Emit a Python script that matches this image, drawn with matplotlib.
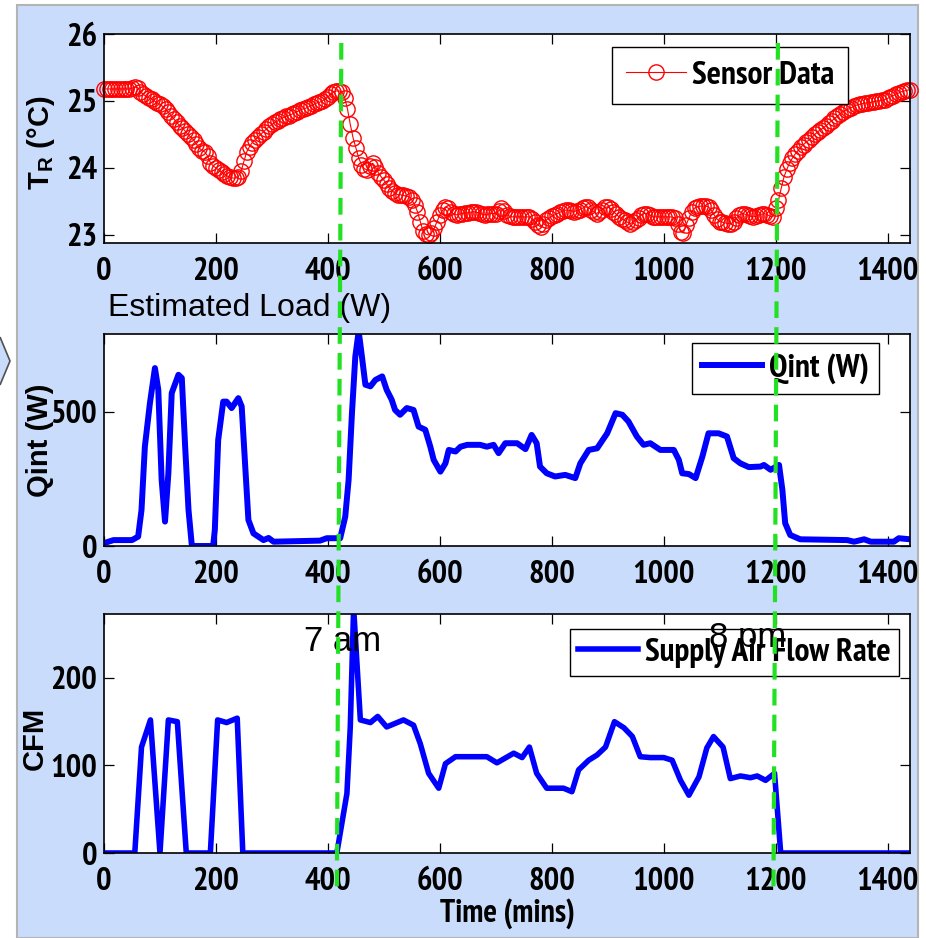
import matplotlib
matplotlib.use('Agg')
import matplotlib.pyplot as plt
import matplotlib.transforms as mtransforms
from matplotlib import font_manager as fm
from matplotlib.patches import Rectangle, Polygon
from matplotlib.lines import Line2D

# room temperature sensor, one reading every 5 minutes
temp_min = list(range(0, 1441, 5))
temp_c = [
    25.18, 25.18, 25.18, 25.18, 25.18, 25.18, 25.18, 25.18, 25.18, 25.18, 25.19, 25.21,
    25.20, 25.14, 25.10, 25.07, 25.05, 25.03, 25.00, 24.97, 24.95, 24.92, 24.88, 24.83,
    24.78, 24.73, 24.68, 24.63, 24.60, 24.55, 24.50, 24.46, 24.42, 24.36, 24.30, 24.26,
    24.24, 24.18, 24.08, 24.03, 24.00, 23.97, 23.94, 23.91, 23.88, 23.86, 23.85, 23.85,
    23.87, 23.95, 24.10, 24.24, 24.32, 24.38, 24.42, 24.46, 24.50, 24.54, 24.58, 24.62,
    24.65, 24.68, 24.70, 24.73, 24.75, 24.77, 24.78, 24.80, 24.82, 24.84, 24.86, 24.88,
    24.89, 24.91, 24.93, 24.95, 24.97, 24.98, 25.00, 25.03, 25.06, 25.10, 25.13, 25.15,
    25.15, 25.14, 25.05, 24.88, 24.65, 24.45, 24.30, 24.15, 24.05, 23.99, 23.97, 24.03,
    24.07, 24.02, 23.93, 23.87, 23.82, 23.76, 23.70, 23.66, 23.62, 23.60, 23.60, 23.59,
    23.58, 23.57, 23.52, 23.45, 23.35, 23.20, 23.06, 23.01, 23.00, 23.03, 23.10, 23.20,
    23.30, 23.37, 23.42, 23.40, 23.35, 23.31, 23.30, 23.31, 23.32, 23.33, 23.33, 23.34,
    23.35, 23.34, 23.33, 23.31, 23.30, 23.31, 23.32, 23.32, 23.32, 23.36, 23.40, 23.36,
    23.30, 23.28, 23.27, 23.27, 23.27, 23.27, 23.27, 23.27, 23.27, 23.24, 23.20, 23.15,
    23.12, 23.17, 23.22, 23.25, 23.28, 23.30, 23.32, 23.34, 23.36, 23.37, 23.37, 23.36,
    23.35, 23.36, 23.38, 23.40, 23.42, 23.41, 23.38, 23.35, 23.32, 23.35, 23.38, 23.41,
    23.42, 23.39, 23.35, 23.31, 23.27, 23.24, 23.22, 23.19, 23.17, 23.19, 23.22, 23.26,
    23.30, 23.32, 23.32, 23.30, 23.27, 23.27, 23.27, 23.27, 23.27, 23.27, 23.27, 23.27,
    23.25, 23.17, 23.05, 23.03, 23.15, 23.25, 23.35, 23.40, 23.42, 23.43, 23.43, 23.43,
    23.42, 23.37, 23.30, 23.24, 23.20, 23.19, 23.18, 23.17, 23.17, 23.20, 23.25, 23.30,
    23.32, 23.31, 23.30, 23.28, 23.27, 23.28, 23.30, 23.31, 23.32, 23.30, 23.28, 23.27,
    23.40, 23.52, 23.70, 23.87, 23.98, 24.08, 24.15, 24.21, 24.26, 24.31, 24.35, 24.39,
    24.42, 24.46, 24.50, 24.54, 24.57, 24.60, 24.63, 24.67, 24.70, 24.74, 24.77, 24.81,
    24.84, 24.86, 24.88, 24.90, 24.92, 24.94, 24.95, 24.96, 24.97, 24.97, 24.98, 24.99,
    25.00, 25.00, 25.01, 25.02, 25.04, 25.06, 25.08, 25.10, 25.12, 25.14, 25.15, 25.16,
    25.17,
]

# estimated internal load
q_min = [0, 2, 17, 50, 61, 67, 73, 82, 91, 97, 103, 109, 115, 121, 133, 139,
         145, 151, 157, 195, 198, 204, 213, 219, 228, 240, 246, 252, 258, 267,
         285, 294, 303, 386, 398, 422, 431, 437, 443, 449, 455, 460, 467, 476,
         485, 497, 505, 514, 520, 529, 541, 553, 562, 574, 583, 589, 601, 610,
         616, 628, 637, 649, 672, 684, 696, 705, 717, 738, 753, 764, 773, 779,
         791, 806, 824, 842, 851, 866, 881, 899, 914, 926, 937, 952, 964, 976,
         994, 1018, 1027, 1033, 1045, 1057, 1069, 1080, 1098, 1113, 1125, 1137,
         1152, 1173, 1179, 1191, 1206, 1212, 1217, 1226, 1244, 1328, 1340, 1358,
         1370, 1411, 1420, 1440]
q_w = [10, 12, 22, 22, 35, 134, 370, 532, 663, 582, 246, 91, 271, 570, 638, 626,
       370, 134, 0, 0, 60, 395, 538, 538, 514, 551, 520, 308, 97, 47,
       22, 30, 16, 20, 29, 29, 109, 246, 495, 706, 800, 719, 601, 595,
       619, 632, 582, 545, 507, 489, 514, 507, 445, 433, 370, 321, 277, 308,
       358, 352, 370, 377, 377, 370, 377, 346, 383, 383, 361, 414, 383, 296,
       271, 259, 265, 253, 308, 358, 364, 420, 495, 489, 464, 408, 377, 383,
       358, 358, 321, 271, 268, 253, 333, 420, 420, 408, 327, 308,
       294, 296, 302, 284, 302, 209, 85, 41, 25, 22, 16, 25,
       16, 16, 29, 25]

# supply air flow
cfm_min = [0, 55, 67, 83, 100, 115, 131, 147, 190, 203, 219, 238, 248, 416, 434,
           440, 446, 458, 476, 489, 505, 535, 553, 565, 580, 598, 610, 628, 684,
           702, 732, 747, 760, 773, 791, 821, 836, 848, 866, 881, 896, 912, 929,
           944, 958, 976, 1000, 1015, 1030, 1045, 1063, 1077, 1089, 1106, 1119,
           1137, 1155, 1167, 1182, 1198, 1209, 1440]
cfm = [0, 0, 121, 152, 0, 152, 150, 0, 0, 152, 149, 154, 0, 0, 68,
       144, 280, 152, 149, 156, 144, 152, 146, 125, 91, 74, 102, 110, 110,
       103, 114, 109, 121, 91, 74, 74, 70, 95, 106, 112, 121, 150, 143,
       133, 110, 109, 109, 106, 83, 66, 87, 120, 133, 121, 85,
       88, 86, 88, 83, 91, 0, 0]

event_min = [420, 1200]
event_txt = ['7 am', '8 pm']
event_txt_x = [427, 1150]
event_txt_y = [231, 235]


def installed(name):
    try:
        fm.findfont(fm.FontProperties(family=name), fallback_to_default=False)
        return True
    except ValueError:
        return False


# MATLAB figure was squeezed sideways, so its labels look like a narrow face
narrow = next((f for f in ['Liberation Sans Narrow', 'Arial Narrow', 'PT Sans Narrow',
                           'Roboto Condensed', 'Archivo Narrow', 'Pragati Narrow']
               if installed(f)), 'Liberation Sans')
plain = 'Arimo' if installed('Arimo') else 'Liberation Sans'

plt.rcParams['font.family'] = [narrow, 'DejaVu Sans']
plt.rcParams['mathtext.fontset'] = 'custom'
plt.rcParams['mathtext.rm'] = plain + ':bold'
plt.rcParams['mathtext.it'] = plain + ':bold'
plt.rcParams['mathtext.bf'] = plain + ':bold'

W, H = 926, 938
bg = '#cadcfc'
fig = plt.figure(figsize=(W / 100, H / 100), dpi=100)

# light blue slide panel + the little arrow on the left
fig.add_artist(Rectangle((17 / W, 0), (918 - 17) / W, (H - 5) / H, transform=fig.transFigure,
                         facecolor=bg, edgecolor='#b4b4b4', lw=1.5, zorder=-5))
fig.add_artist(Polygon([(0, 1 - 337 / H), (10 / W, 1 - 361 / H), (0, 1 - 385 / H)],
                       closed=False, transform=fig.transFigure, facecolor=bg,
                       edgecolor='#505050', lw=1.2, zorder=-4))

ax1 = fig.add_axes([104 / W, 1 - 243 / H, 806 / W, 209 / H])
ax2 = fig.add_axes([104 / W, 1 - 546 / H, 806 / W, 212 / H])
ax3 = fig.add_axes([104 / W, 1 - 853 / H, 806 / W, 239 / H])

ylab_font = dict(family=plain, weight='bold', size=21)
leg_font = dict(weight='bold', size=24)


def style(ax, ylim, yticks):
    ax.set_xlim(0, 1440)
    ax.set_ylim(*ylim)
    ax.set_xticks(range(0, 1401, 200))
    ax.set_yticks(yticks)
    ax.tick_params(direction='in', top=True, right=True, length=7, width=0.9, labelsize=23.5)
    ax.tick_params(axis='x', pad=10)
    ax.tick_params(axis='y', pad=5)
    for lab in ax.get_xticklabels() + ax.get_yticklabels():
        lab.set_fontweight('bold')
    for s in ax.spines.values():
        s.set_linewidth(1.2)


def legend(ax, anchor, pad):
    leg = ax.legend(loc='upper right', bbox_to_anchor=anchor, prop=leg_font, numpoints=1,
                    fancybox=False, framealpha=1, edgecolor='black', borderpad=pad,
                    handlelength=1.8, handletextpad=0.2, borderaxespad=0)
    leg.get_frame().set_linewidth(1)


ax1.plot(temp_min, temp_c, color='red', lw=0.8, marker='o', ms=11, mfc='none',
         mew=1.0, clip_on=False, label='Sensor Data')
style(ax1, (22.88, 26), [23, 24, 25, 26])
ax1.set_ylabel('T$_\\mathrm{R}$ (°C)', **ylab_font)
ax1.yaxis.set_label_coords(-0.058, 0.48)
legend(ax1, (0.923, 0.938), 0.4)

ax2.plot(q_min, q_w, color='#0000ff', lw=4.3, solid_joinstyle='round', label='Qint (W)')
style(ax2, (0, 790), [0, 500])
ax2.set_ylabel('Qint (W)', **ylab_font)
ax2.yaxis.set_label_coords(-0.062, 0.5)
legend(ax2, (0.9615, 0.9575), 0.3)

ax3.plot(cfm_min, cfm, color='#0000ff', lw=4.0, label='Supply Air Flow Rate')
style(ax3, (0, 273), [0, 100, 200])
ax3.set_ylabel('CFM', **ylab_font)
ax3.yaxis.set_label_coords(-0.069, 0.48)
ax3.set_xlabel('Time (mins)', fontsize=23, fontweight='bold', labelpad=1)
legend(ax3, (0.986, 0.937), 0.25)

for x, y, txt in zip(event_txt_x, event_txt_y, event_txt):
    ax3.text(x, y, txt, ha='center', va='baseline', fontsize=25, family=plain, zorder=10)

fig.text(108 / W, 1 - 308 / H, 'Estimated Load (W)', ha='left', va='center',
         fontsize=23, family=plain, zorder=1)

# 7 am / 8 pm markers, dashed lines running through all three panels
trans = mtransforms.blended_transform_factory(ax1.transData, fig.transFigure)
for ev in event_min:
    fig.add_artist(Line2D([ev + 4, ev - 4], [1 - 43 / H, 1 - 893 / H], transform=trans,
                          color='#22e022', lw=3, dashes=(4, 2.2), zorder=20))

fig.savefig('out.png', dpi=100, facecolor='white')
